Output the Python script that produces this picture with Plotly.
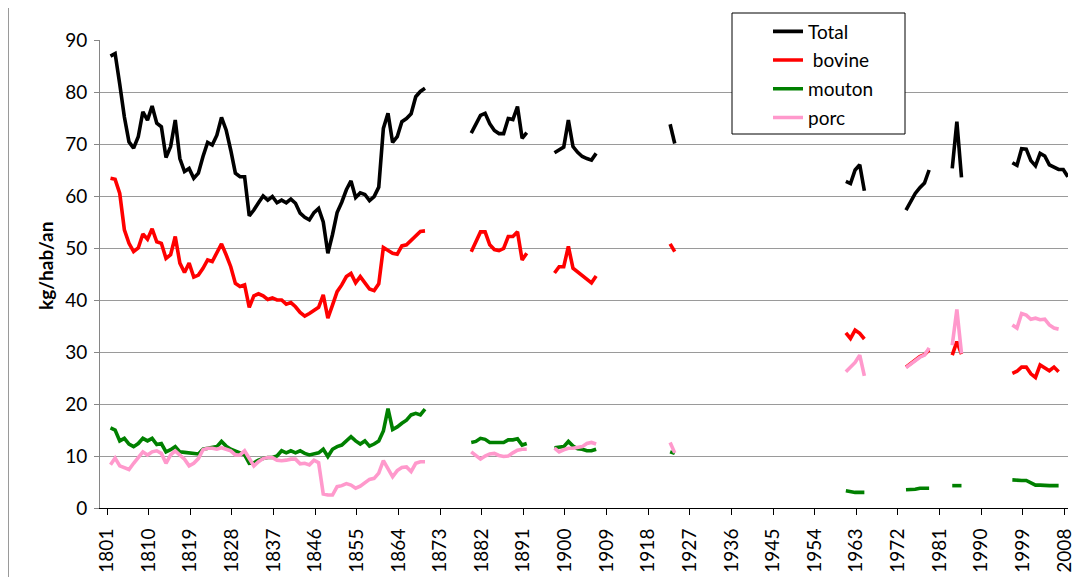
import plotly.graph_objects as go

# ---------------- data (kg/hab/an) ----------------
years_a = list(range(1801, 1870))
total_a = [86.9, 87.4, 81.5, 75.2, 70.4, 69.2, 71.4, 76.2, 74.6, 77.3,
           74.0, 73.3, 67.4, 69.5, 74.6, 67.2, 64.7, 65.3, 63.4, 64.4,
           67.6, 70.3, 69.8, 71.7, 75.1, 72.7, 68.8, 64.4, 63.7, 63.7,
           56.2, 57.3, 58.7, 60.0, 59.2, 59.9, 58.7, 59.2, 58.7, 59.4,
           58.6, 56.7, 55.9, 55.4, 56.8, 57.6, 55.0, 49.0, 52.6, 56.8,
           58.8, 61.2, 62.9, 59.7, 60.6, 60.3, 59.1, 59.9, 61.7, 73.0,
           75.9, 70.3, 71.4, 74.3, 74.9, 75.8, 79.1, 80.1, 80.7]
bovine_a = [63.4, 63.2, 60.5, 53.5, 50.9, 49.3, 50.0, 52.7, 51.7, 53.7,
            51.2, 50.9, 48.0, 48.7, 52.2, 47.1, 45.3, 47.1, 44.4, 44.8,
            46.1, 47.7, 47.4, 49.0, 50.8, 48.7, 46.4, 43.2, 42.6, 42.9,
            38.6, 40.8, 41.2, 40.8, 40.1, 40.4, 40.0, 40.0, 39.2, 39.5,
            38.7, 37.6, 36.9, 37.4, 38.1, 38.6, 41.0, 36.5, 39.0, 41.6,
            42.9, 44.5, 45.1, 43.3, 44.5, 43.2, 42.1, 41.8, 43.1, 50.1,
            49.5, 49.0, 48.8, 50.4, 50.6, 51.4, 52.3, 53.2, 53.3]
mouton_a = [15.4, 15.0, 12.9, 13.4, 12.3, 11.8, 12.4, 13.4, 12.9, 13.4,
            12.2, 12.4, 10.8, 11.2, 11.8, 10.8, 10.7, 10.6, 10.6, 10.4,
            11.3, 11.5, 11.6, 11.8, 12.8, 11.9, 11.3, 11.0, 10.6, 10.2,
            8.6, 8.7, 9.2, 9.5, 9.7, 9.7, 10.0, 11.0, 10.6, 11.0,
            10.6, 11.0, 10.5, 10.2, 10.4, 10.6, 11.3, 9.9, 11.3, 11.8,
            12.1, 12.8, 13.7, 12.9, 12.3, 12.9, 11.9, 12.3, 12.9, 14.8,
            19.1, 15.1, 15.6, 16.3, 16.9, 17.9, 18.2, 17.9, 19.0]
porc_a = [8.3, 9.6, 8.1, 7.8, 7.4, 8.6, 9.7, 10.8, 10.2, 10.8,
          11.0, 10.5, 8.6, 10.2, 11.0, 10.2, 9.4, 8.1, 8.6, 9.5,
          11.2, 11.5, 11.5, 11.3, 11.6, 11.3, 11.0, 10.2, 10.2, 11.0,
          9.5, 8.1, 8.9, 9.5, 9.7, 9.7, 9.2, 9.1, 9.2, 9.4,
          9.4, 8.5, 8.6, 8.3, 9.2, 8.7, 2.7, 2.5, 2.5, 4.1,
          4.3, 4.7, 4.4, 3.8, 4.2, 4.9, 5.5, 5.7, 6.7, 9.1,
          7.6, 6.0, 7.2, 7.8, 7.9, 7.0, 8.6, 8.9, 8.9]

years_b = list(range(1879, 1892))
total_b = [72.1, 73.8, 75.5, 75.9, 73.9, 72.6, 72.0, 72.0, 74.9, 74.7, 77.2, 71.1, 72.2]
bovine_b = [49.3, 51.2, 53.1, 53.1, 50.6, 49.7, 49.5, 49.9, 52.2, 52.2, 53.1, 47.7, 49.0]
mouton_b = [12.6, 12.8, 13.4, 13.2, 12.6, 12.6, 12.6, 12.6, 13.1, 13.1, 13.3, 12.1, 12.4]
porc_b = [10.8, 10.2, 9.4, 10.0, 10.4, 10.5, 10.1, 9.9, 10.0, 10.6, 11.1, 11.3, 11.3]

years_c = list(range(1897, 1907))
total_c = [68.3, 68.9, 69.4, 74.6, 69.5, 68.4, 67.6, 67.2, 66.9, 68.2]
bovine_c = [45.2, 46.4, 46.4, 50.3, 46.1, 45.4, 44.5, 43.8, 43.3, 44.6]
mouton_c = [11.6, 11.7, 11.8, 12.8, 11.9, 11.4, 11.3, 11.0, 11.0, 11.3]
porc_c = [11.5, 10.8, 11.2, 11.5, 11.5, 11.6, 11.8, 12.4, 12.6, 12.3]

years_d = [1922, 1923]
total_d = [73.8, 70.1]
bovine_d = [50.8, 49.3]
mouton_d = [10.8, 10.5]
porc_d = [12.6, 10.6]

years_e = list(range(1960, 1965))
total_e = [62.8, 62.4, 65.0, 66.0, 61.0]
bovine_e = [33.7, 32.6, 34.2, 33.6, 32.5]
mouton_e = [3.3, 3.1, 3.0, 3.0, 3.0]
porc_e = [26.2, 27.0, 28.0, 29.4, 25.4]

years_f = list(range(1973, 1979))
total_f = [57.3, 58.9, 60.5, 61.6, 62.5, 65.0]
bovine_f = [27.1, 27.8, 28.5, 29.1, 29.5, 30.4]
mouton_f = [3.5, 3.5, 3.6, 3.8, 3.8, 3.8]
porc_f = [27.0, 27.7, 28.4, 29.0, 29.4, 30.8]

years_g = [1983, 1984, 1985]
total_g = [65.3, 74.3, 63.6]
bovine_g = [29.4, 32.0, 29.6]
mouton_g = [4.3, 4.3, 4.3]
porc_g = [31.3, 38.2, 29.7]

years_h = list(range(1996, 2009))
total_h = [66.4, 65.9, 69.1, 69.0, 66.8, 65.8, 68.2, 67.7, 66.0, 65.5, 65.1, 65.1, 63.7]
bovine_h = [25.9, 26.3, 27.1, 27.1, 25.8, 25.1, 27.5, 27.0, 26.4, 27.1, 26.2, None, None]
mouton_h = [5.4, 5.3, 5.3, 5.3, 4.9, 4.4, 4.4, 4.3, 4.3, 4.3, 4.3, None, None]
porc_h = [35.2, 34.6, 37.4, 37.1, 36.3, 36.5, 36.2, 36.3, 35.2, 34.6, 34.4, None, None]

tick_years = list(range(1801, 2009, 9))

series_names = ["Total", "\u00a0bovine", "mouton", "porc"]
series_colors = ["#000000", "#FF0000", "#008000", "#FF99CC"]

blocks_years = [years_a, years_b, years_c, years_d, years_e, years_f, years_g, years_h]
blocks = {
    "Total": [total_a, total_b, total_c, total_d, total_e, total_f, total_g, total_h],
    "\u00a0bovine": [bovine_a, bovine_b, bovine_c, bovine_d, bovine_e, bovine_f, bovine_g, bovine_h],
    "mouton": [mouton_a, mouton_b, mouton_c, mouton_d, mouton_e, mouton_f, mouton_g, mouton_h],
    "porc": [porc_a, porc_b, porc_c, porc_d, porc_e, porc_f, porc_g, porc_h],
}


def join(years_list, vals_list):
    xs, ys = [], []
    for yrs, vals in zip(years_list, vals_list):
        if xs:
            xs.append(None)
            ys.append(None)
        xs.extend(yrs)
        ys.extend(vals)
    return xs, ys


fig = go.Figure()
for i, (name, color) in enumerate(zip(series_names, series_colors)):
    xs, ys = join(blocks_years, blocks[name])
    fig.add_trace(go.Scatter(x=xs, y=ys, mode="lines", name=name,
                             legendgroup="g%d" % i,
                             line=dict(color=color, width=3.6),
                             connectgaps=False))

# The page body has an 8px margin; figure is sized so the page fits 1086x585.
OFF = 8
W, H = 1070, 569
PL, PR, PT, PB = 100, 1068, 40, 508          # plot area in page pixels
L, T = PL - OFF, PT - OFF
R = W - (PR - OFF)
B = H - (PB - OFF)
pw, ph = PR - PL, PB - PT


def px_x(p):
    return (p - PL) / pw


def px_y(p):
    return (PB - p) / ph


FONT = "Lato"

fig.update_layout(
    width=W, height=H,
    margin=dict(l=L, r=R, t=T, b=B, autoexpand=False),
    paper_bgcolor="white", plot_bgcolor="white",
    showlegend=True,
    legend=dict(x=px_x(768), y=px_y(12.5), xanchor="left", yanchor="top",
                bgcolor="rgba(0,0,0,0)", borderwidth=0, tracegroupgap=1,
                font=dict(family=FONT, size=19, color="#000000")),
    xaxis=dict(range=[1798.73, 2008.03], tickmode="array",
               tickvals=[y - 0.75 for y in tick_years],
               ticktext=[str(y) for y in tick_years],
               tickangle=-90, ticks="outside", ticklen=6, tickcolor="#000000",
               ticklabelstandoff=6,
               showline=True, linecolor="#000000", linewidth=1,
               showgrid=False, zeroline=False,
               tickfont=dict(family=FONT, size=19, color="#000000")),
    yaxis=dict(range=[0, 90], tickmode="array", tickvals=list(range(0, 91, 10)),
               ticks="outside", ticklen=5, tickcolor="#868686",
               ticklabelstandoff=3,
               showline=True, linecolor="#868686", linewidth=1,
               showgrid=True, gridcolor="#9a9a9a", gridwidth=1, zeroline=False,
               tickfont=dict(family=FONT, size=19, color="#000000")),
    shapes=[
        dict(type="rect", xref="paper", yref="paper",
             x0=px_x(732), x1=px_x(905), y0=px_y(134), y1=px_y(13),
             line=dict(color="#000000", width=1), fillcolor="white", layer="above"),
        dict(type="line", xref="paper", yref="paper",
             x0=px_x(8.5), x1=px_x(8.5), y0=px_y(590), y1=px_y(0),
             line=dict(color="#9a9a9a", width=1)),
    ],
    annotations=[
        dict(text="<b>kg/hab/an</b>", xref="paper", yref="paper",
             x=px_x(45), y=px_y(266), xanchor="center", yanchor="middle",
             showarrow=False, textangle=-90,
             font=dict(family=FONT, size=19, color="#000000")),
    ],
)

fig.write_html("out.html")
